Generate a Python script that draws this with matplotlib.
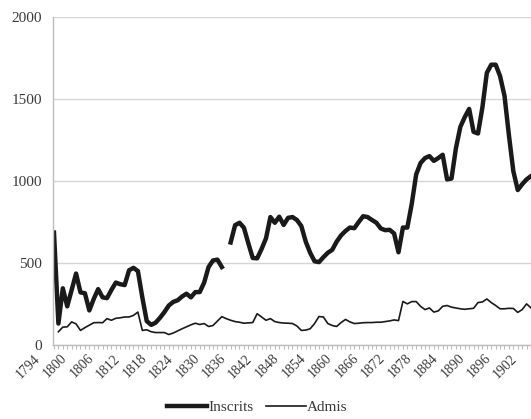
import matplotlib
import matplotlib.pyplot as plt
import matplotlib.transforms as mtransforms
import numpy as np

matplotlib.use("Agg")

years = np.arange(1794, 1903)

# one row per decade (1794-1799 first)
inscrits = [
    685, 130, 345, 235, 335, 435,
    320, 315, 210, 280, 340, 290, 285, 335, 380, 370,
    365, 455, 470, 450, 290, 145, 122, 135, 165, 200,
    240, 262, 272, 295, 312, 290, 322, 322, 380, 475,
    515, 520, 475, np.nan, 625, 730, 745, 715, 620, 530,
    528, 585, 650, 780, 745, 782, 732, 775, 780, 762,
    725, 630, 562, 510, 505, 535, 562, 580, 630, 668,
    695, 716, 712, 750, 785, 780, 762, 745, 710, 700,
    702, 680, 565, 716, 716, 860, 1040, 1110, 1140, 1152,
    1123, 1140, 1160, 1010, 1015, 1200, 1330, 1390, 1440, 1300,
    1290, 1450, 1660, 1710, 1710, 1640, 1520, 1280, 1060, 945,
    980, 1010, 1030,
]

admis = [
    np.nan, 80, 108, 110, 140, 128,
    88, 105, 120, 135, 136, 135, 160, 150, 162, 165,
    170, 170, 180, 200, 88, 92, 80, 75, 75, 75,
    63, 72, 85, 98, 110, 122, 132, 124, 130, 112,
    118, 145, 172, 160, 150, 142, 138, 132, 134, 136,
    190, 170, 150, 160, 142, 136, 133, 132, 130, 115,
    88, 90, 98, 130, 173, 170, 130, 118, 112, 136,
    155, 140, 130, 132, 135, 136, 136, 138, 138, 142,
    146, 152, 148, 265, 250, 264, 264, 235, 215, 225,
    200, 207, 235, 240, 230, 225, 220, 217, 220, 223,
    258, 262, 280, 258, 240, 220, 220, 223, 222, 198,
    215, 250, 225,
]

tick_years = np.arange(1794, 1903, 6)
y_ticks = [0, 500, 1000, 1500, 2000]

plt.rcParams["font.family"] = ["Liberation Serif", "DejaVu Serif"]
text_color = "#3a3a3a"
axis_color = "#bdbdbd"

fig = plt.figure(figsize=(5.31, 4.19), dpi=100)
ax = fig.add_axes([0.1, 0.177, 0.9, 0.782])

ax.plot(years, inscrits, color="#1a1a1a", lw=3.2, solid_joinstyle="round",
        label="Inscrits")
ax.plot(years, admis, color="#1a1a1a", lw=1.2, label="Admis")

ax.set_xlim(1793.8, 1901.8)
ax.set_ylim(0, 2000)
ax.set_yticks(y_ticks)
ax.set_yticklabels([str(v) for v in y_ticks])
ax.grid(axis="y", color="#d6d6d6", lw=1.0)
ax.set_axisbelow(True)

ax.set_xticks(tick_years)
ax.set_xticklabels([str(y) for y in tick_years], rotation=45, ha="right",
                   fontsize=10, color=text_color)
ax.set_xticks(years, minor=True)
ax.tick_params(axis="x", which="both", length=3, width=0.8, color=axis_color,
               direction="out", pad=2)
ax.tick_params(axis="y", length=0, labelsize=11, labelcolor=text_color, pad=8)

offset = mtransforms.ScaledTranslation(-0.11, 0, fig.dpi_scale_trans)
for lab in ax.get_xticklabels():
    lab.set_transform(lab.get_transform() + offset)

for side in ["top", "right"]:
    ax.spines[side].set_visible(False)
for side in ["left", "bottom"]:
    ax.spines[side].set_color(axis_color)
    ax.spines[side].set_linewidth(1.0)

fig.legend(loc="center", bbox_to_anchor=(0.485, 0.028), ncol=2, frameon=False,
           fontsize=11, handlelength=2.6, handletextpad=0.1, columnspacing=0.8,
           labelcolor=text_color)

fig.savefig("out.png", dpi=100)
